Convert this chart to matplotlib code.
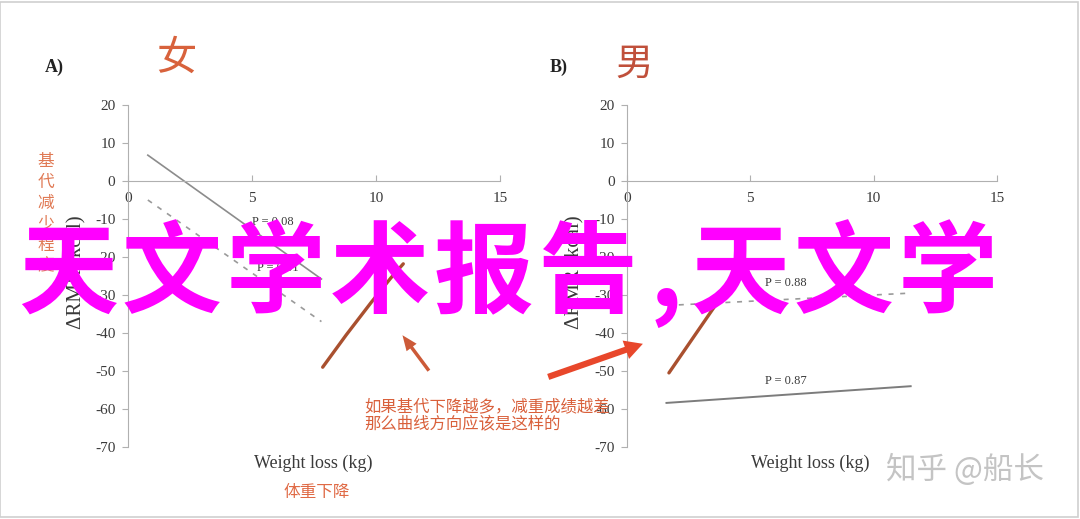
import matplotlib
matplotlib.use("Agg")
import matplotlib.pyplot as plt
from matplotlib.patches import Rectangle

CJK = ['Noto Sans CJK SC', 'DejaVu Sans']
SERIF = ['Liberation Serif', 'DejaVu Serif']

# ---- data ----
x_ticks = [0, 5, 10, 15]
y_ticks = [20, 10, 0, -10, -20, -30, -40, -50, -60, -70]

# Panel A (female)
a_solid_x = [0.8, 7.8]
a_solid_y = [6.8, -25.8]
a_dash_x = [0.8, 7.8]
a_dash_y = [-5.0, -37.0]
a_hand_x = [7.85, 8.8, 9.8, 10.6, 11.1]
a_hand_y = [-49.0, -40.5, -32.0, -25.5, -21.8]
a_labels = ["P = 0.08", "P = 0.01"]
a_label_x = [5.0, 5.2]
a_label_y = [-10.8, -23.0]
a_arrow_tail = (12.2, -50.5)
a_arrow_head = (11.0, -40.0)

# Panel B (male)
b_dash_x = [2.1, 11.5]
b_dash_y = [-32.6, -29.5]
b_solid_x = [1.6, 11.5]
b_solid_y = [-58.4, -54.0]
b_hand_x = [1.7, 2.6, 3.5, 4.3, 4.9]
b_hand_y = [-50.5, -42.0, -33.5, -26.5, -21.5]
b_labels = ["P = 0.88", "P = 0.87"]
b_label_x = [5.6, 5.6]
b_label_y = [-26.8, -52.6]
b_arrow_tail = (-3.3, -51.8)
b_arrow_head = (0.75, -42.6)

banner = '天文学术报告,天文学'

W, H = 1080, 519
def fx(px): return px / W
def fy(py): return 1 - py / H

fig = plt.figure(figsize=(10.8, 5.19), dpi=100)
fig.patch.set_facecolor('white')

TXT = '#3a3a3a'
BROWN = '#a9502f'

def setup(ax):
    ax.set_xlim(0, 15)
    ax.set_ylim(-70, 20)
    for s in ['top', 'right']:
        ax.spines[s].set_visible(False)
    ax.spines['left'].set_color('#b0b0b0')
    ax.spines['bottom'].set_color('#b0b0b0')
    ax.spines['bottom'].set_position(('data', 0))
    ax.set_xticks(x_ticks)
    ax.set_yticks(y_ticks)
    ax.set_xticklabels([str(v) for v in x_ticks], family=SERIF, fontsize=11, color=TXT)
    ax.set_yticklabels([str(v) for v in y_ticks], family=SERIF, fontsize=11, color=TXT)
    ax.tick_params(axis='x', direction='in', length=4, color='#b0b0b0', pad=8)
    ax.tick_params(axis='y', direction='out', length=4, color='#b0b0b0', pad=5)
    ax.patch.set_alpha(0)

axA = fig.add_axes([fx(128), fy(447), fx(500) - fx(128), fy(105) - fy(447)])
axB = fig.add_axes([fx(627), fy(447), fx(997) - fx(627), fy(105) - fy(447)])
setup(axA)
setup(axB)

# panel A marks
axA.plot(a_solid_x, a_solid_y, color='#8c8c8c', lw=1.2)
axA.plot(a_dash_x, a_dash_y, color='#9a9a9a', lw=1.2, ls=(0, (3, 4)))
axA.plot(a_hand_x, a_hand_y, color=BROWN, lw=2.4, solid_capstyle='round')
for t, x, y in zip(a_labels, a_label_x, a_label_y):
    axA.text(x, y, t, family=SERIF, fontsize=9, color=TXT, va='center')
axA.annotate('', xy=a_arrow_head, xytext=a_arrow_tail,
             arrowprops=dict(arrowstyle='simple,head_width=0.9,head_length=1.1,tail_width=0.25',
                             color='#cc5a38', lw=0), annotation_clip=False)

# panel B marks
axB.plot(b_dash_x, b_dash_y, color='#9a9a9a', lw=1.2, ls=(0, (3, 4)))
axB.plot(b_solid_x, b_solid_y, color='#7c7c7c', lw=1.4)
axB.plot(b_hand_x, b_hand_y, color=BROWN, lw=2.4, solid_capstyle='round')
for t, x, y in zip(b_labels, b_label_x, b_label_y):
    axB.text(x, y, t, family=SERIF, fontsize=9, color=TXT, va='center')
axB.annotate('', xy=b_arrow_head, xytext=b_arrow_tail,
             arrowprops=dict(arrowstyle='simple,head_width=1.4,head_length=1.3,tail_width=0.45',
                             color='#e8472b', lw=0), annotation_clip=False)

# panel titles
fig.text(fx(45), fy(67), 'A)', family=SERIF, fontsize=13, weight='bold', color='#222', va='center')
fig.text(fx(550), fy(67), 'B)', family=SERIF, fontsize=13, weight='bold', color='#222', va='center')
fig.text(fx(176), fy(58), '女', family=CJK, fontsize=29, color='#d8623c', ha='center', va='center')
fig.text(fx(634), fy(64), '男', family=CJK, fontsize=27, color='#c0503b', ha='center', va='center')

# y labels
for xl in (77, 575):
    fig.text(fx(xl), fy(272), 'ΔRMR (kcal)', family=SERIF, fontsize=15, color=TXT,
             rotation=90, ha='center', va='center')
fig.text(fx(46), fy(214), '\n'.join('基代减少程度'), family=CJK, fontsize=12,
         color='#e07a55', ha='center', va='center', linespacing=1.3)

# x labels
fig.text(fx(313), fy(463), 'Weight loss (kg)', family=SERIF, fontsize=13, color=TXT, ha='center', va='center')
fig.text(fx(810), fy(463), 'Weight loss (kg)', family=SERIF, fontsize=13, color=TXT, ha='center', va='center')
fig.text(fx(317), fy(492), '体重下降', family=CJK, fontsize=12, color='#e06a45', ha='center', va='center')

# annotation
fig.text(fx(364), fy(416), '如果基代下降越多，减重成绩越差\n那么曲线方向应该是这样的',
         family=CJK, fontsize=11.8, color='#d9603b', ha='left', va='center', linespacing=1.1)

# watermark
fig.text(fx(965), fy(470), '知乎 @船长', family=CJK, fontsize=22, color='#c4c4c4', ha='center', va='center')

# overlay banner, one glyph at a time for wider spacing
xpos = 18
for ch in banner:
    fig.text(fx(xpos), fy(276), ch, family=CJK, fontsize=72, weight='bold',
             color='#ff00ff', ha='left', va='center')
    xpos += 40 if ch == ',' else 104
    if ch == '告':
        xpos = 650

# frame
fig.add_artist(Rectangle((0, 0.004), 0.998, 0.992, transform=fig.transFigure,
                         fill=False, edgecolor='#cfcfcf', lw=1.2))

fig.savefig('out.png', dpi=100, facecolor='white')
